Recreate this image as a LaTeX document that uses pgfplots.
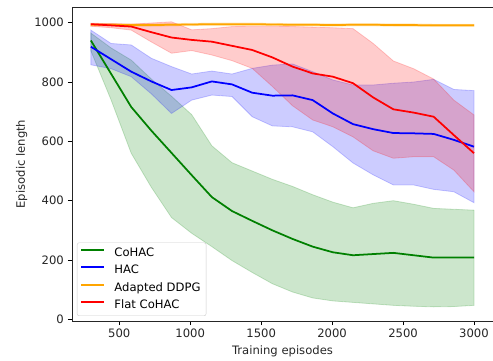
\documentclass[border=0pt]{standalone}
\usepackage{fontspec}
\setmainfont{DejaVu Sans}
\usepackage{pgfplots}
\pgfplotsset{compat=1.18}
\usepackage{pgfplotstable}
\usepgfplotslibrary{fillbetween}
\definecolor{mgreen}{RGB}{0,128,0}
\definecolor{mblue}{RGB}{0,0,255}
\definecolor{morange}{RGB}{255,165,0}
\definecolor{mred}{RGB}{255,0,0}
\pgfplotstableread{
e      gm  gl  gu  bm  bl  bu  om  ol  ou   rm  rl  ru
300    940 905 965 919 858 975 993 989 997  995 988 998
442.1  828 740 915 877 845 930 993 989 997  991 983 997
584.2  716 560 874 835 818 925 992 988 996  987 975 995
726.3  636 445 810 802 760 880 992 988 996  968 935 999
868.4  561 343 752 773 694 852 993 989 997  950 897 1003
1010.5 486 290 690 782 739 827 994 990 998  942 906 976
1152.6 412 245 585 802 756 837 995 991 999  936 891 980
1294.7 365 198 528 792 751 827 995 991 999  922 872 987
1436.8 332 158 500 764 683 846 995 991 999  908 846 988
1578.9 300 120 472 754 652 857 994 990 998  883 785 988
1721.1 271 92  448 755 649 861 993 989 997  852 720 987
1863.2 245 72  420 739 632 835 993 989 997  829 672 985
2005.3 226 62  395 694 582 807 992 988 996  818 649 983
2147.4 216 57  376 658 527 790 993 989 997  796 615 980
2289.5 220 52  391 641 487 790 993 989 997  748 568 930
2431.6 224 47  400 628 453 796 992 988 996  708 543 871
2573.7 216 44  388 627 453 800 992 988 996  697 548 845
2715.8 208 42  374 625 438 809 991 987 995  683 548 810
2857.9 208 43  371 605 430 775 991 987 995  621 503 739
3000   208 47  368 582 393 771 991 987 995  560 430 689
}\data
\begin{document}
\fontsize{11.6}{13.9}\selectfont
\begin{tikzpicture}
\begin{axis}[
  at={(0pt,0pt)}, anchor=south west,
  scale only axis, width=423pt, height=314pt,
  xmin=167, xmax=3148, ymin=-5.7, ymax=1052.9,
  xtick={500,1000,1500,2000,2500,3000},
  ytick={0,200,400,600,800,1000},
  scaled ticks=false,
  /pgf/number format/1000 sep={},
  /pgf/number format/assume math mode=true,
  tick align=outside, tick pos=left,
  major tick length=4.1pt,
  every tick/.style={black, line width=0.9pt},
  axis line style={line width=0.9pt, black!85},
  tick label style={font=\fontsize{11.6}{13.9}\selectfont, black!85},
  xlabel={Training episodes},
  ylabel={Episodic length},
  label style={font=\fontsize{11.6}{13.9}\selectfont, black!85},
  xlabel style={at={(axis description cs:0.4976,-0.0978)}, anchor=center},
  ylabel style={at={(axis description cs:-0.119,0.5)}, anchor=center},
  legend style={at={(axis description cs:0.0118,0.016)}, anchor=south west,
    font=\fontsize{11.6}{13.9}\selectfont, draw=black!20, rounded corners=2pt,
    fill=white, inner xsep=3pt, inner ysep=1.5pt,
    row sep=0pt, nodes={inner sep=2.5pt, text height=9.5pt, text depth=3pt},
    /tikz/every odd column/.append style={column sep=7pt}},
  legend cell align=left,
  legend image code/.code={\draw[line width=1.75pt,#1] (0pt,0.5ex) -- (23pt,0.5ex);},
]
% CoHAC
\addplot[name path=gu, draw=none, forget plot] table[x=e,y=gu]{\data};
\addplot[name path=gl, draw=none, forget plot] table[x=e,y=gl]{\data};
\addplot[fill=mgreen, fill opacity=0.2, draw=mgreen, draw opacity=0.2, line width=0.8pt, forget plot] fill between[of=gu and gl];
\addplot[mgreen, line width=1.75pt, forget plot] table[x=e,y=gm]{\data};
% HAC
\addplot[name path=bu, draw=none, forget plot] table[x=e,y=bu]{\data};
\addplot[name path=bl, draw=none, forget plot] table[x=e,y=bl]{\data};
\addplot[fill=mblue, fill opacity=0.2, draw=mblue, draw opacity=0.2, line width=0.8pt, forget plot] fill between[of=bu and bl];
\addplot[mblue, line width=1.75pt, forget plot] table[x=e,y=bm]{\data};
% DDPG
\addplot[name path=ou, draw=none, forget plot] table[x=e,y=ou]{\data};
\addplot[name path=ol, draw=none, forget plot] table[x=e,y=ol]{\data};
\addplot[fill=morange, fill opacity=0.2, draw=morange, draw opacity=0.2, line width=0.8pt, forget plot] fill between[of=ou and ol];
\addplot[morange, line width=1.75pt, forget plot] table[x=e,y=om]{\data};
% Flat CoHAC
\addplot[name path=ru, draw=none, forget plot] table[x=e,y=ru]{\data};
\addplot[name path=rl, draw=none, forget plot] table[x=e,y=rl]{\data};
\addplot[fill=mred, fill opacity=0.2, draw=mred, draw opacity=0.2, line width=0.8pt, forget plot] fill between[of=ru and rl];
\addplot[mred, line width=1.75pt, forget plot] table[x=e,y=rm]{\data};
% legend
\addlegendimage{mgreen, line width=1.75pt}
\addlegendentry{CoHAC}
\addlegendimage{mblue, line width=1.75pt}
\addlegendentry{HAC}
\addlegendimage{morange, line width=1.75pt}
\addlegendentry{Adapted DDPG}
\addlegendimage{mred, line width=1.75pt}
\addlegendentry{Flat CoHAC}
\end{axis}
\pgfresetboundingbox
\path (-72pt,-39pt) rectangle (421pt,321pt);
\end{tikzpicture}
\end{document}
